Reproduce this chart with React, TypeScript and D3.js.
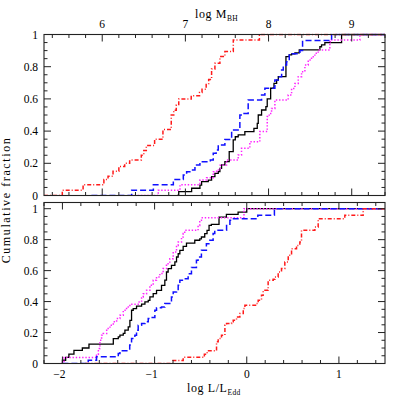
import React from 'react';
import * as d3 from 'd3';

// ---------- data ----------
// Top panel: cumulative fraction vs log M_BH
const topBlackX = [6.90, 6.92, 7.075, 7.175, 7.195, 7.275, 7.315, 7.355, 7.395, 7.415, 7.435, 7.475, 7.527, 7.575, 7.60, 7.635, 7.715, 7.824, 7.864, 7.876, 7.916, 7.968, 7.984, 8.025, 8.065, 8.097, 8.117, 8.209, 8.249, 8.277, 8.317, 8.369, 8.617, 8.637, 8.677, 8.878];
const topBlackY = [0, 0.024, 0.045, 0.065, 0.086, 0.096, 0.117, 0.138, 0.148, 0.169, 0.19, 0.21, 0.272, 0.345, 0.365, 0.376, 0.397, 0.417, 0.448, 0.5, 0.531, 0.552, 0.6, 0.666, 0.697, 0.717, 0.738, 0.862, 0.873, 0.88, 0.886, 0.904, 0.924, 0.935, 0.949, 1];

const topBlueX = [5.87, 6.354, 6.615, 6.855, 6.975, 7.015, 7.075, 7.115, 7.175, 7.3, 7.335, 7.37, 7.395, 7.475, 7.556, 7.655, 7.68, 7.755, 7.916, 7.956, 8.076, 8.117, 8.157, 8.177, 8.217, 8.249, 8.277, 8.377, 8.409, 8.758];
const topBlueY = [0, 0.033, 0.067, 0.1, 0.128, 0.148, 0.159, 0.19, 0.21, 0.221, 0.262, 0.283, 0.314, 0.348, 0.407, 0.5, 0.51, 0.593, 0.624, 0.666, 0.717, 0.738, 0.779, 0.81, 0.831, 0.873, 0.88, 0.9, 0.962, 1];

const topMagentaX = [6.35, 6.674, 6.935, 7.175, 7.255, 7.335, 7.375, 7.42, 7.495, 7.635, 7.675, 7.775, 7.895, 7.984, 8.008, 8.036, 8.076, 8.236, 8.277, 8.317, 8.357, 8.397, 8.437, 8.477, 8.517, 8.557, 8.597, 8.737, 8.757, 9.098];
const topMagentaY = [0, 0.033, 0.067, 0.096, 0.11, 0.148, 0.159, 0.19, 0.221, 0.252, 0.293, 0.334, 0.397, 0.49, 0.51, 0.541, 0.593, 0.624, 0.665, 0.696, 0.738, 0.769, 0.81, 0.842, 0.862, 0.883, 0.904, 0.955, 0.966, 1];

const topRedX = [5.30, 5.52, 5.77, 6.02, 6.07, 6.13, 6.20, 6.27, 6.33, 6.47, 6.50, 6.53, 6.63, 6.73, 6.83, 6.86, 6.89, 6.92, 7.07, 7.17, 7.20, 7.25, 7.28, 7.315, 7.355, 7.415, 7.475, 7.576, 7.89];
const topRedY = [0, 0.033, 0.067, 0.1, 0.12, 0.15, 0.18, 0.2, 0.22, 0.25, 0.28, 0.31, 0.35, 0.41, 0.5, 0.53, 0.56, 0.6, 0.62, 0.64, 0.66, 0.69, 0.72, 0.786, 0.822, 0.863, 0.894, 0.966, 1];

// Bottom panel: cumulative fraction vs log L/L_Edd
const botBlackX = [-2.0, -2.0, -1.965, -1.93, -1.875, -1.784, -1.712, -1.448, -1.394, -1.376, -1.34, -1.322, -1.286, -1.268, -1.25, -1.232, -1.196, -1.141, -1.105, -1.069, -1.051, -1.015, -0.979, -0.925, -0.889, -0.871, -0.853, -0.817, -0.78, -0.762, -0.744, -0.726, -0.69, -0.654, -0.564, -0.51, -0.492, -0.456, -0.431, -0.409, -0.384, -0.301, -0.221, -0.094, 0.0];
const botBlackY = [0, 0.021, 0.04, 0.06, 0.085, 0.1, 0.125, 0.161, 0.172, 0.183, 0.194, 0.215, 0.236, 0.279, 0.344, 0.355, 0.37, 0.383, 0.398, 0.408, 0.43, 0.451, 0.473, 0.505, 0.538, 0.591, 0.613, 0.634, 0.656, 0.688, 0.709, 0.731, 0.757, 0.778, 0.796, 0.805, 0.817, 0.839, 0.86, 0.892, 0.899, 0.946, 0.963, 0.978, 1];

const botMagentaX = [-2.0, -2.0, -1.983, -1.63, -1.61, -1.593, -1.575, -1.557, -1.52, -1.484, -1.448, -1.412, -1.376, -1.34, -1.304, -1.268, -1.178, -1.141, -1.123, -1.087, -1.051, -1.015, -0.979, -0.943, -0.907, -0.871, -0.835, -0.798, -0.762, -0.744, -0.708, -0.69, -0.673, -0.528, -0.51, -0.492, -0.03];
const botMagentaY = [0, 0.015, 0.038, 0.06, 0.097, 0.15, 0.183, 0.194, 0.226, 0.247, 0.269, 0.29, 0.312, 0.344, 0.365, 0.383, 0.398, 0.43, 0.451, 0.473, 0.505, 0.538, 0.559, 0.581, 0.613, 0.645, 0.677, 0.72, 0.763, 0.785, 0.817, 0.839, 0.86, 0.892, 0.925, 0.941, 1];

const botBlueX = [-2.0, -1.72, -1.63, -1.394, -1.376, -1.27, -1.25, -1.214, -1.196, -1.178, -1.141, -1.105, -1.069, -1.051, -0.997, -0.979, -0.925, -0.889, -0.835, -0.817, -0.798, -0.762, -0.744, -0.726, -0.69, -0.636, -0.6, -0.546, -0.528, -0.492, -0.438, -0.402, -0.365, -0.347, -0.219, -0.183, -0.165, 0.12, 0.3];
const botBlueY = [0, 0.021, 0.043, 0.065, 0.083, 0.12, 0.161, 0.183, 0.215, 0.247, 0.258, 0.269, 0.29, 0.297, 0.344, 0.36, 0.365, 0.387, 0.398, 0.43, 0.462, 0.473, 0.505, 0.538, 0.548, 0.58, 0.62, 0.667, 0.688, 0.731, 0.774, 0.796, 0.839, 0.86, 0.892, 0.925, 0.935, 0.957, 1];

const botRedX = [-1.75, -0.8, -0.69, -0.46, -0.43, -0.328, -0.31, -0.274, -0.237, -0.219, -0.165, -0.147, -0.111, -0.075, -0.038, -0.02, 0.106, 0.124, 0.16, 0.178, 0.232, 0.287, 0.305, 0.341, 0.377, 0.413, 0.45, 0.486, 0.54, 0.576, 0.594, 0.739, 0.775, 1.064, 1.263];
const botRedY = [0, 0.02, 0.04, 0.06, 0.082, 0.14, 0.161, 0.183, 0.247, 0.258, 0.269, 0.28, 0.301, 0.323, 0.355, 0.376, 0.387, 0.409, 0.441, 0.473, 0.538, 0.544, 0.559, 0.591, 0.613, 0.656, 0.699, 0.742, 0.763, 0.785, 0.86, 0.882, 0.935, 0.957, 1];

const massTicks = [6, 7, 8, 9];
const eddTicks = [-2, -1, 0, 1];
const fracTicks = [0, 0.2, 0.4, 0.6, 0.8, 1];
const fracLabels = ['0', '0.2', '0.4', '0.6', '0.8', '1'];

// ---------- layout ----------
const LEFT = 44, RIGHT = 385;
const TOP_T = 34.5, TOP_B = 195.5;
const BOT_T = 202.5, BOT_B = 363.5;
const FONT = '"Liberation Serif", "DejaVu Serif", serif';

const styles = {
  black: { stroke: '#000000', dash: undefined as string | undefined, w: 1.3 },
  blue: { stroke: '#1010ff', dash: '6,3', w: 1.5 },
  magenta: { stroke: '#ff22ff', dash: '1.4,1.8', w: 1.5 },
  red: { stroke: '#ff1a1a', dash: '4,2,1,2', w: 1.5 },
};

function Steps({ xs, ys, sx, sy, st, xEnd }: any) {
  const pts: [number, number][] = xs.map((x: number, i: number) => [x, ys[i]]);
  pts.push([xEnd, 1]);
  const line = d3.line<[number, number]>().x(d => sx(d[0])).y(d => sy(d[1])).curve(d3.curveStepAfter);
  return <path d={line(pts) || ''} fill="none" stroke={st.stroke} strokeWidth={st.w} strokeDasharray={st.dash} />;
}

function Frame({ sx, sy, top, bottom, xMajor, xMinor, yMaxMinor }: any) {
  const els: any[] = [];
  const c = '#222';
  xMinor.forEach((v: number, i: number) => {
    const x = sx(v);
    const len = xMajor.some((m: number) => Math.abs(m - v) < 1e-6) ? 7 : 3.5;
    els.push(<line key={'xt' + i} x1={x} x2={x} y1={top} y2={top + len} stroke={c} strokeWidth={1} />);
    els.push(<line key={'xb' + i} x1={x} x2={x} y1={bottom} y2={bottom - len} stroke={c} strokeWidth={1} />);
  });
  d3.range(0, yMaxMinor + 1).forEach((i) => {
    const v = i * 0.05;
    const y = sy(v);
    const len = i % 4 === 0 ? 7 : 3.5;
    els.push(<line key={'yl' + i} x1={LEFT} x2={LEFT + len} y1={y} y2={y} stroke={c} strokeWidth={1} />);
    els.push(<line key={'yr' + i} x1={RIGHT} x2={RIGHT - len} y1={y} y2={y} stroke={c} strokeWidth={1} />);
  });
  els.push(<rect key="fr" x={LEFT} y={top} width={RIGHT - LEFT} height={bottom - top} fill="none" stroke={c} strokeWidth={1.1} />);
  return <g>{els}</g>;
}

export default function App() {
  const xM = d3.scaleLinear().domain([5.3, 9.4]).range([LEFT, RIGHT]);
  const xL = d3.scaleLinear().domain([-2.2, 1.5]).range([LEFT, RIGHT]);
  const yT = d3.scaleLinear().domain([0, 1]).range([TOP_B, TOP_T]);
  const yB = d3.scaleLinear().domain([0, 1.04]).range([BOT_B, BOT_T]);

  const mMinor = d3.range(27, 48).map(i => +(i * 0.2).toFixed(2)).filter(v => v >= 5.3 && v <= 9.4);
  const lMinor = d3.range(-11, 8).map(i => +(i * 0.2).toFixed(2)).filter(v => v >= -2.2 && v <= 1.5);

  return (
    <svg width={407} height={407} style={{ position: 'absolute', left: 0, top: 0, background: '#fff' }} fontFamily={FONT}>
      <defs>
        <clipPath id="cpT"><rect x={LEFT} y={TOP_T - 1} width={RIGHT - LEFT} height={TOP_B - TOP_T + 1.5} /></clipPath>
        <clipPath id="cpB"><rect x={LEFT} y={BOT_T} width={RIGHT - LEFT} height={BOT_B - BOT_T + 0.5} /></clipPath>
      </defs>

      {/* top panel */}
      <g clipPath="url(#cpT)">
        <Steps xs={topBlackX} ys={topBlackY} sx={xM} sy={yT} st={styles.black} xEnd={9.4} />
        <Steps xs={topMagentaX} ys={topMagentaY} sx={xM} sy={yT} st={styles.magenta} xEnd={9.4} />
        <Steps xs={topBlueX} ys={topBlueY} sx={xM} sy={yT} st={styles.blue} xEnd={9.4} />
        <Steps xs={topRedX} ys={topRedY} sx={xM} sy={yT} st={styles.red} xEnd={9.4} />
      </g>
      <Frame sx={xM} sy={yT} top={TOP_T} bottom={TOP_B} xMajor={massTicks} xMinor={mMinor} yMaxMinor={20} />

      {/* bottom panel */}
      <g clipPath="url(#cpB)">
        <Steps xs={botBlackX} ys={botBlackY} sx={xL} sy={yB} st={styles.black} xEnd={1.5} />
        <Steps xs={botMagentaX} ys={botMagentaY} sx={xL} sy={yB} st={styles.magenta} xEnd={1.5} />
        <Steps xs={botBlueX} ys={botBlueY} sx={xL} sy={yB} st={styles.blue} xEnd={1.5} />
        <Steps xs={botRedX} ys={botRedY} sx={xL} sy={yB} st={styles.red} xEnd={1.5} />
      </g>
      <Frame sx={xL} sy={yB} top={BOT_T} bottom={BOT_B} xMajor={eddTicks} xMinor={lMinor} yMaxMinor={20} />

      {/* y tick labels */}
      {fracTicks.map((v, i) => (
        <text key={'tl' + i} x={38} y={yT(v) + 4} textAnchor="end" fontSize={11.5}>{fracLabels[i]}</text>
      ))}
      {fracTicks.map((v, i) => (
        <text key={'bl' + i} x={38} y={yB(v) + 4} textAnchor="end" fontSize={11.5}>{fracLabels[i]}</text>
      ))}

      {/* top x tick labels */}
      {massTicks.map((v) => (
        <text key={'m' + v} x={xM(v)} y={28} textAnchor="middle" fontSize={11.5}>{v}</text>
      ))}
      {/* bottom x tick labels */}
      {eddTicks.map((v) => (
        <text key={'e' + v} x={xL(v) + (v < 0 ? -3 : 0)} y={378} textAnchor="middle" fontSize={11.5}>{v < 0 ? '\u2212' + Math.abs(v) : String(v)}</text>
      ))}

      {/* axis titles */}
      <text x={195} y={18} fontSize={12} letterSpacing={0.6}>
        log  M<tspan fontSize={7.5} dy={3} letterSpacing={0.3}>BH</tspan>
      </text>
      <text x={187} y={392} fontSize={12} letterSpacing={0.6}>
        log  L/L<tspan fontSize={7.5} dy={3} letterSpacing={0.3}>Edd</tspan>
      </text>
      <text transform="translate(10,200) rotate(-90)" textAnchor="middle" fontSize={12} letterSpacing={1.6}>Cumulative fraction</text>
    </svg>
  );
}
